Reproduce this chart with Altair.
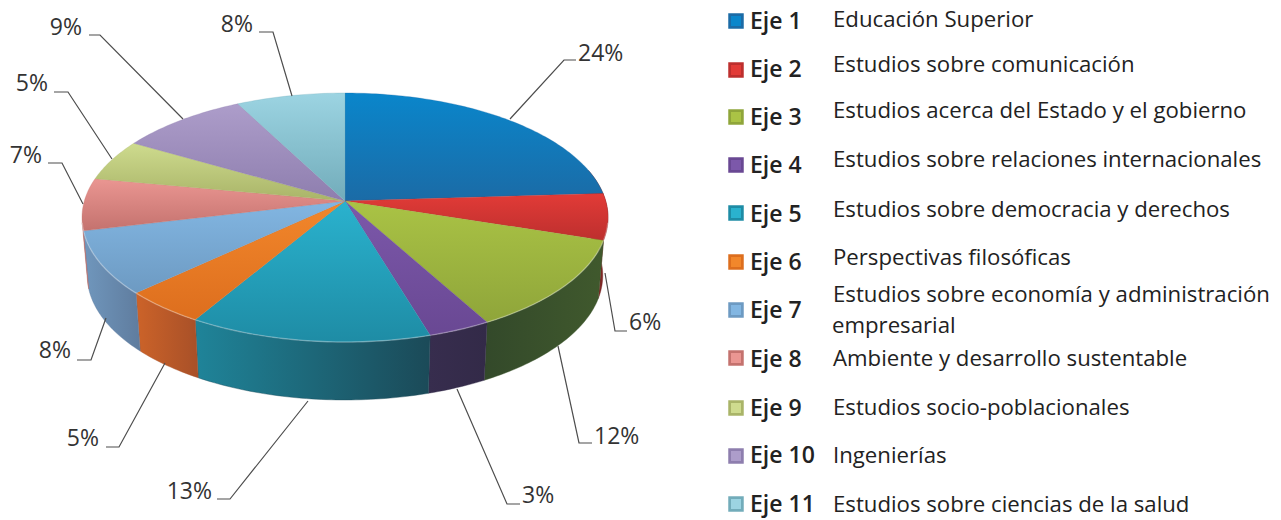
import math
import altair as alt

# --- values ---
ejes = ["Eje 1", "Eje 2", "Eje 3", "Eje 4", "Eje 5", "Eje 6", "Eje 7", "Eje 8", "Eje 9", "Eje 10", "Eje 11"]
shares = [24, 6, 12, 3.4, 13.1, 4.5, 8.2, 6.8, 5.4, 9, 7.6]
pct_labels = ["24%", "6%", "12%", "3%", "13%", "5%", "8%", "7%", "5%", "9%", "8%"]
descriptions = [
    "Educación Superior", "Estudios sobre comunicación",
    "Estudios acerca del Estado y el gobierno", "Estudios sobre relaciones internacionales",
    "Estudios sobre democracia y derechos", "Perspectivas filosóficas",
    "Estudios sobre economía y administración", "Ambiente y desarrollo sustentable",
    "Estudios socio-poblacionales", "Ingenierías", "Estudios sobre ciencias de la salud",
]
top_light = ["#0a86cb", "#e23b37", "#aac345", "#7c58aa", "#2ab2ce", "#f2872b", "#82b6e2", "#ea9692", "#cedb8e", "#ad9dca", "#9cd4e2"]
top_dark = ["#1b6ba6", "#bd2f2e", "#8fa53a", "#694893", "#1e8ca5", "#dd6e1e", "#6d9ac2", "#c4726e", "#a9b468", "#8e7eae", "#72acba"]
wall_left = ["#8a2a28", "#8a2a28", "#33492a", "#372d4e", "#1f8499", "#cc6329", "#7097bd", "#b86a66", "#8a9a50", "#7a6a9a", "#5a92a0"]
wall_right = ["#6c1f1e", "#6c1f1e", "#40592d", "#332a48", "#1b4a58", "#a85028", "#5f7c9e", "#b86a66", "#8a9a50", "#7a6a9a", "#5a92a0"]

# pie geometry (perspective ellipse)
APEX = (345, 201)
A, B, K = 122.3, 260.7, 0.1325
DEPTH, BOTTOM_SCALE = 58, 0.98

# leader lines and label placement (page pixels)
leaders = [
    [(510, 119), (564, 60), (576, 60)], [(605, 273), (615, 331), (627, 331)],
    [(558, 346), (579, 443), (592, 443)], [(457, 389), (507, 504), (520, 504)],
    [(308, 401), (230, 499), (217, 499)], [(165, 363), (119, 447), (106, 447)],
    [(106, 318), (91, 360), (77, 360)], [(83, 204), (62, 163), (48, 163)],
    [(112, 159), (68, 92), (54, 92)], [(183, 119), (100, 35), (89, 35)],
    [(292, 96), (273, 32), (259, 32)],
]
label_x = [578, 629, 594, 522, 212, 99, 71, 42, 48, 82, 253]
label_y = [61, 330, 444, 503, 499, 446, 358, 163, 91, 35, 32]
label_align = ["left", "left", "left", "left", "right", "right", "right", "right", "right", "right", "right"]
swatch_y = [21, 70, 117, 165, 213, 262, 310, 358, 408, 456, 504]
eje_y = [29, 77, 125, 173, 222, 270, 318, 367, 416, 463, 512]
desc_y = [27, 72, 118, 167, 217, 265, 302, 366, 415, 463, 512]


def rim(theta, bottom=False):
    w = 1 + K * math.cos(theta)
    x = B * math.sin(theta) / w
    y = -A * math.cos(theta) / w
    if bottom:
        return [APEX[0] + x * BOTTOM_SCALE, APEX[1] + y + DEPTH]
    return [APEX[0] + x, APEX[1] + y]


def angles(a, b):
    n = max(2, int(abs(b - a) * 60))
    return [a + (b - a) * i / n for i in range(n + 1)]


def poly(coords):
    return {"type": "Feature", "properties": {},
            "geometry": {"type": "Polygon", "coordinates": [coords + [coords[0]]]}}


def grad(c1, c2, horizontal=False):
    return alt.LinearGradient(
        gradient="linear", x1=0, y1=0, x2=1 if horizontal else 0, y2=0 if horizontal else 1,
        stops=[alt.GradientStop(color=c1, offset=0), alt.GradientStop(color=c2, offset=1)],
    )


layers = []
edges = [0]
for s in shares:
    edges.append(edges[-1] + s)
edges = [e / 100 * 2 * math.pi for e in edges]

# walls
VIS_A, VIS_B = math.radians(75), math.radians(260)
for i in range(len(shares)):
    a, b = max(edges[i], VIS_A), min(edges[i + 1], VIS_B)
    if a >= b:
        continue
    ts = angles(a, b)
    coords = [rim(t) for t in ts] + [rim(t, True) for t in reversed(ts)]
    layers.append(
        alt.Chart(alt.Data(values=[poly(coords)])).mark_geoshape(
            fill=grad(wall_left[i], wall_right[i], True),
            stroke=wall_right[i], strokeWidth=0.4)
    )
# top faces
for i in range(len(shares)):
    coords = [list(APEX)] + [rim(t) for t in angles(edges[i], edges[i + 1])]
    layers.append(
        alt.Chart(alt.Data(values=[poly(coords)])).mark_geoshape(
            fill=grad(top_light[i], top_dark[i]), stroke=top_dark[i], strokeWidth=0.3)
    )
# light bevel along the front rim
bevel = {"type": "Feature", "properties": {},
         "geometry": {"type": "LineString", "coordinates": [rim(t) for t in angles(math.radians(100), math.radians(260))]}}
layers.append(alt.Chart(alt.Data(values=[bevel])).mark_geoshape(
    filled=False, stroke="#ffffff", strokeWidth=1.4, opacity=0.3))

# leaders
leader_features = [{"type": "Feature", "properties": {},
                    "geometry": {"type": "LineString", "coordinates": [list(p) for p in l]}} for l in leaders]
layers.append(alt.Chart(alt.Data(values=leader_features)).mark_geoshape(
    filled=False, stroke="#4d4d4d", strokeWidth=1.2))

# percent labels
for align in ["left", "right"]:
    rows = [{"x": label_x[i], "y": label_y[i], "t": pct_labels[i]}
            for i in range(len(pct_labels)) if label_align[i] == align]
    layers.append(
        alt.Chart(alt.Data(values=rows)).mark_text(
            align=align, baseline="alphabetic", font="Open Sans", fontSize=23, color="#333333"
        ).encode(longitude="x:Q", latitude="y:Q", text="t:N")
    )

# legend
sw = [{"x": 736, "y": swatch_y[i], "light": top_light[i], "dark": top_dark[i]} for i in range(len(ejes))]
layers.append(alt.Chart(alt.Data(values=sw)).mark_square(size=240, opacity=1, filled=True).encode(
    longitude="x:Q", latitude="y:Q", color=alt.Color("dark:N", scale=None, legend=None)))
layers.append(alt.Chart(alt.Data(values=sw)).mark_square(size=100, opacity=1, filled=True).encode(
    longitude="x:Q", latitude="y:Q", color=alt.Color("light:N", scale=None, legend=None)))

eje_rows = [{"x": 750, "y": eje_y[i], "t": ejes[i]} for i in range(len(ejes))]
layers.append(alt.Chart(alt.Data(values=eje_rows)).mark_text(
    align="left", baseline="alphabetic", font="Open Sans", fontSize=23, fontWeight=600, color="#222222"
).encode(longitude="x:Q", latitude="y:Q", text="t:N"))

desc_rows = [{"x": 833, "y": desc_y[i], "t": descriptions[i]} for i in range(len(descriptions))]
desc_rows.append({"x": 832, "y": 333, "t": "empresarial"})
layers.append(alt.Chart(alt.Data(values=desc_rows)).mark_text(
    align="left", baseline="alphabetic", font="Open Sans", fontSize=22.2, color="#222222"
).encode(longitude="x:Q", latitude="y:Q", text="t:N"))

chart = alt.layer(*layers).project(type="identity", scale=1, translate=[-8, -8]).properties(
    width=1265, height=512, padding=0, background="white"
).configure_view(stroke=None)

chart.save("out.html", embed_options={"renderer": "svg", "actions": False})
